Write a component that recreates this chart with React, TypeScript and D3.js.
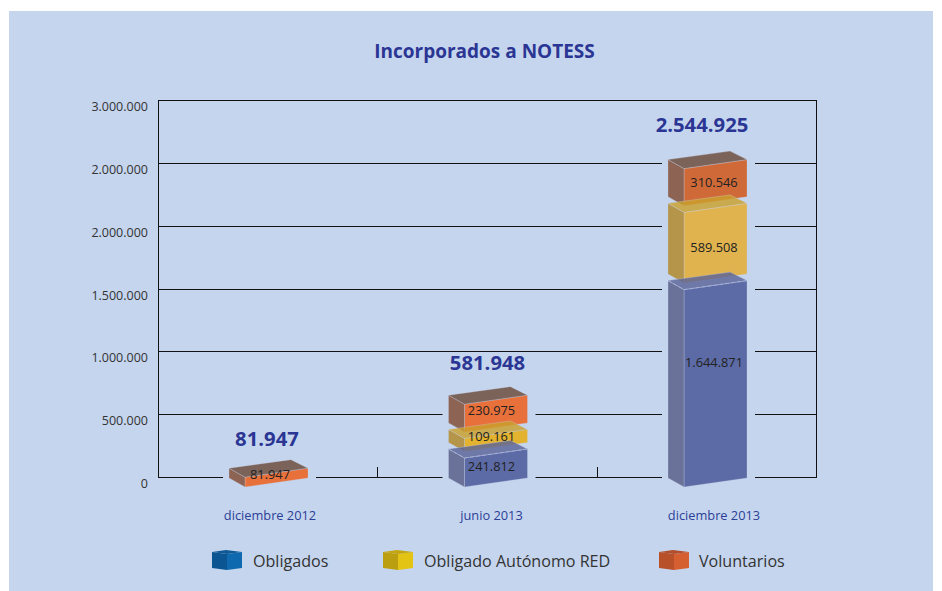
import React from "react";
import * as d3 from "d3";

const categories = ["diciembre 2012", "junio 2013", "diciembre 2013"];
const totals = [81947, 581948, 2544925];
const obligados = [0, 241812, 1644871];
const autonomos = [0, 109161, 589508];
const voluntarios = [81947, 230975, 310546];
const tickValues = [0, 500000, 1000000, 1500000, 2000000, 2500000, 3000000];
const tickLabels = ["0", "500.000", "1.000.000", "1.500.000", "2.000.000", "2.000.000", "3.000.000"];
const legendNames = ["Obligados", "Obligado Autónomo RED", "Voluntarios"];

const W = 942, H = 591;
const FONT = "'Open Sans', 'Noto Sans', sans-serif";
const y = d3.scaleLinear().domain([0, 3000000]).range([477, 100]);
const h = d3.scaleLinear().domain([0, 3000000]).range([0, 360]);
const x = d3.scalePoint<number>().domain([0, 1, 2]).range([268, 707]);
const fmt = d3.formatLocale({ decimal: ",", thousands: ".", grouping: [3], currency: ["", ""] }).format(",d");

const palette = [
  { front: ["#5c6ba6", "#5c6ba6", "#5c6ba6"], side: "#6a7299", top: "#5b6498" },
  { front: ["#e3b22e", "#e3b22e", "#e0b34e"], side: "#b4954a", top: "#caa02c" },
  { front: ["#e8703a", "#e8703a", "#cf6a38"], side: "#8d6353", top: "#6a4938" },
];
const seriesList = [obligados, autonomos, voluntarios];
// layout nudges of the printed labels, by series then by column
const valueLabelDy = [[0, 3, -17], [0, 0, 8], [1, 1, 4]];
const valueLabelDx = [2, 4, 7];
const totalLift = [29, 32, 35];
const totalDx = [-1, 0, -5];
const categoryDx = [2, 4, 7];

const DX_L = 39, DX_F = 23, DX_R = 40, DX_B = 23, RISE = 9, GAP = 6.5, BASE = 478;

function pts(p: [number, number][]) {
  return p.map((d) => d.join(",")).join(" ");
}

function Box({ cx, bottom, height, s, cat }: any) {
  const L = cx - DX_L, F = cx - DX_F, R = cx + DX_R, B = cx + DX_B;
  const top = bottom - height;
  const c = palette[s];
  const edge = "rgba(200,210,235,0.5)";
  return (
    <g>
      <polygon points={pts([[F, top + RISE], [R, top], [R, bottom], [F, bottom + RISE]])} fill={c.front[cat]} stroke={edge} strokeWidth={0.6} />
      <polygon points={pts([[L, top], [F, top + RISE], [F, bottom + RISE], [L, bottom]])} fill={c.side} stroke={edge} strokeWidth={0.6} />
      <polygon points={pts([[L, top], [B, top - RISE + 0.5], [R, top], [F, top + RISE]])} fill={c.top} fillOpacity={0.82} stroke={edge} strokeWidth={0.6} />
      {s === 0 && (
        <polyline points={pts([[L, top], [F, top + RISE], [R, top]])} fill="none" stroke="#aab4da" strokeWidth={0.8} strokeDasharray="4 2" />
      )}
    </g>
  );
}

function LegendIcon({ x0, colors }: { x0: number; colors: string[] }) {
  const t = 552, b = 568;
  return (
    <g>
      <polygon points={pts([[x0 + 15, t + 2], [x0 + 30, t], [x0 + 30, b], [x0 + 15, b + 2]])} fill={colors[0]} />
      <polygon points={pts([[x0, t], [x0 + 15, t + 2], [x0 + 15, b + 2], [x0, b]])} fill={colors[1]} />
      <polygon points={pts([[x0, t], [x0 + 14, t - 2], [x0 + 30, t], [x0 + 15, t + 2]])} fill={colors[2]} />
    </g>
  );
}

const legendIcons = [
  ["#0f69ae", "#0b5592", "#0f5a96"],
  ["#e3c314", "#bc9f10", "#c4a610"],
  ["#d55f30", "#b8502a", "#b24e2c"],
];
const legendX = [212, 383, 659];
const legendTextX = [253, 424, 699];

const snap = (v: number) => Math.round(v) + 0.5;

export default function App() {
  const lineY = tickValues.slice(1, -1).concat([0]).map((v) => snap(y(v)));

  const stacks = categories.map((_, i) => {
    let bottom = BASE;
    const boxes: any[] = [];
    seriesList.forEach((vals, s) => {
      if (vals[i] <= 0) return;
      const height = h(vals[i]);
      boxes.push({ s, cat: i, bottom, height, value: vals[i] });
      bottom = bottom - height - GAP;
    });
    return { i, boxes, top: boxes[boxes.length - 1].bottom - boxes[boxes.length - 1].height };
  });

  // grid lines are interrupted around the bars they would cross
  const segments: [number, number, number][] = [];
  lineY.forEach((ly) => {
    let start = 159;
    stacks.forEach((st) => {
      if (st.top - 9 < ly) {
        segments.push([start, x(st.i)! - 45, ly]);
        start = x(st.i)! + 48;
      }
    });
    segments.push([start, 816, ly]);
  });

  return (
    <svg width={W} height={H} style={{ position: "absolute", left: 0, top: 0, background: "#fff" }} fontFamily={FONT}>
      <rect x={9} y={11} width={924} height={580} fill="#c5d5ee" />
      <text x={484.5} y={58} textAnchor="middle" fontSize={19} fontWeight={700} fill="#2b3594">Incorporados a NOTESS</text>

      <g stroke="#111" strokeWidth={1}>
        <line x1={158.5} x2={816.5} y1={snap(y(3000000))} y2={snap(y(3000000))} />
        <line x1={158.5} x2={158.5} y1={100} y2={478} />
        <line x1={816.5} x2={816.5} y1={100} y2={478} />
        {segments.map((d, i) => <line key={i} x1={d[0]} x2={d[1]} y1={d[2]} y2={d[2]} />)}
        {[377.5, 597.5].map((d) => <line key={d} x1={d} x2={d} y1={467} y2={477} />)}
      </g>

      {tickValues.map((v, i) => (
        <text key={v} x={148} y={y(v) + 11} textAnchor="end" fontSize={12.5} fill="#333">{tickLabels[i]}</text>
      ))}

      {stacks.map((st) => {
        const cx = x(st.i)!;
        return (
          <g key={st.i}>
            {[...st.boxes].reverse().map((b) => (
              <Box key={b.s} cx={cx} bottom={b.bottom} height={b.height} s={b.s} cat={b.cat} />
            ))}
            {st.boxes.map((b) => (
              <text key={b.s} x={cx + valueLabelDx[st.i]} y={b.bottom - b.height / 2 + 5 + valueLabelDy[b.s][st.i]} textAnchor="middle" fontSize={12.8} fill="#222">{fmt(b.value)}</text>
            ))}
            <text x={cx + totalDx[st.i]} y={st.top - totalLift[st.i] + 7} textAnchor="middle" fontSize={20.3} fontWeight={700} fill="#2b3594">{fmt(totals[st.i])}</text>
            <text x={cx + categoryDx[st.i]} y={520} textAnchor="middle" fontSize={12.8} fill="#2b3f96">{categories[st.i]}</text>
          </g>
        );
      })}

      {legendNames.map((n, i) => (
        <g key={n}>
          <LegendIcon x0={legendX[i]} colors={legendIcons[i]} />
          <text x={legendTextX[i]} y={567} fontSize={16.1} fill="#333">{n}</text>
        </g>
      ))}
    </svg>
  );
}
